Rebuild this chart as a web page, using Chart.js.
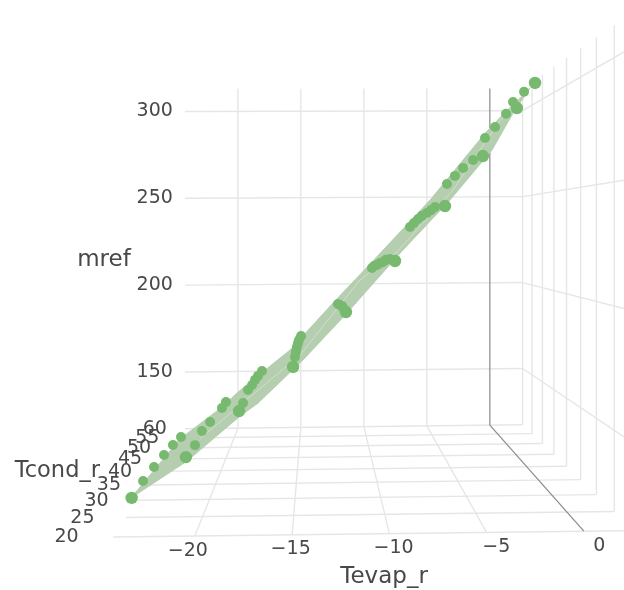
<!DOCTYPE html>
<html>
<head>
<meta charset="utf-8">
<style>
  html, body { margin: 0; background: #fff; }
  canvas { display: block; filter: blur(0.5px); }
</style>
<script src="https://cdn.jsdelivr.net/npm/chart.js@4"></script>
</head>
<body>
<canvas id="myChart" width="624" height="590"></canvas>
<script>
// measured points
const tevap = [-23.25,-23.27,-23.24,-23.19,-23.14,-23.09,
  -20.46,-20.42,-20.44,-20.34,-20.27,-20.31,
  -17.73,-17.78,-17.75,-17.74,-17.77,-17.78,-17.7,
  -14.95,-14.93,-14.95,-14.96,-14.96,-14.96,-14.93,
  -12.23,-12.24,-12.26,-12.22,-12.2,
  -9.71,-9.71,-9.69,-9.63,-9.6,-9.59,-9.59,-9.55,
  -7.14,-7.24,-7.3,-7.3,-7.22,-7.11,-7.04,-6.99,
  -5.19,-5.15,-5.19,-5.18,-5.22,
  -3.44,-3.34,-3.32,-3.32,
  -2.51,-2.35,-2.27];
const tcond = [20,25,30,35,40,45,
  20,25,30,35,45,50,
  20,25,30,35,40,45,50,
  20,25,30,35,40,45,55,
  20,25,30,40,50,
  20,25,30,35,40,45,50,55,
  20,25,27,30,35,40,45,50,
  20,25,30,35,40,
  20,25,30,35,
  20,25,30];
const mref = [131.8,131.7,131.3,130.7,129.7,128.2,
  146.8,145.8,146.3,145.3,142.5,141.1,
  163.8,162.4,163.5,161.7,160.2,158.4,157.3,
  180.1,180.6,179.5,178.6,177.6,176.2,172.8,
  200.5,199.6,198.9,195.5,192.2,
  219.5,219.5,218.4,216.7,215.4,213.5,212.1,210.1,
  240,240.2,239.2,238.3,237.4,236.3,234.5,232.6,
  258.7,259,257.4,255.4,252.9,
  276.7,277.5,274.8,272.5,
  286.1,286.3,285.5];

// surface edges and its seam
const nearTevap = [-23.28,-20.4,-17.73,-16.75,-14.44,-12.18,-9.35,-6.88,-4.72,-3.64,-2.77];
const nearMref = [131.8,145.3,161.6,166.7,182.7,200.1,223.2,242.3,261,274.8,284.2];
const farTevap = [-23.16,-20.4,-19.03,-15.58,-12.62,-9.93,-5.93,-2.14,-0.77];
const farMref = [127.3,142.2,151.2,171.2,194.6,215.1,246,279.5,290];
const seamTevap = [-20.55,-14.71,-11.21,-9.05,-7.53,-5.78,-3.03,-1.57];
const seamMref = [143.1,178.2,209.9,221.7,234,248,277.6,289.5];

// axes
const tevapTicks = [-20,-15,-10,-5,0];
const tcondTicks = [20,25,30,35,40,45,50,55,60];
const mrefTicks = [150,200,250,300];
const tevapRange = [-24.2,2.6];
const tcondRange = [20,60];
const mrefRange = [117.3,313];

// camera
function project(x, y, z) {
  const w = 1 + 0.0136 * (y - 20);
  const u = 317 + 19.45 * (x + 13.72) / w;
  const f = 1 - 0.0004 * (x + 11);
  const v = 230 - (z - 231.3) * 2.668 * f / w - 0.006 * (u - 317);
  return { x: u, y: v };
}

function lineData(from, to) {
  return { data: [project(...from), project(...to)], showLine: true, pointRadius: 0,
    borderColor: '#e6e6e6', borderWidth: 1.4, order: 5 };
}

const datasets = [];

// markers
datasets.push({
  data: tevap.map((t, i) => project(t, tcond[i], mref[i])),
  backgroundColor: '#78b970',
  borderWidth: 0,
  pointRadius: ctx => tcond[ctx.dataIndex] === 20 ? 6.2 : 5,
  order: 0
});

// seam on the surface
datasets.push({
  data: seamTevap.map((t, i) => project(t, 30, seamMref[i])),
  showLine: true, pointRadius: 0, borderColor: '#cfe0ca', borderWidth: 1, order: 1
});

// surface band, near edge filled to far edge
const nearEdge = nearTevap.map((t, i) => project(t, 20, nearMref[i]));
const farEdge = farTevap.map((t, i) => project(t, 45, farMref[i]));
farEdge.unshift(nearEdge[0]);
farEdge.push(nearEdge[nearEdge.length - 1]);
datasets.push({
  data: nearEdge, showLine: true, pointRadius: 0, borderColor: '#b4ceaf', borderWidth: 1,
  fill: '+1', backgroundColor: '#b4ceaf', order: 2
});
datasets.push({
  data: farEdge, showLine: true, pointRadius: 0, borderColor: '#b4ceaf', borderWidth: 1, order: 3
});

// grid, floor
tevapTicks.forEach(t => {
  const d = lineData([t, tcondRange[0], mrefRange[0]], [t, tcondRange[1], mrefRange[0]]);
  if (t === 0) { d.borderColor = '#8a8a8a'; d.borderWidth = 1.2; d.order = 4; }
  datasets.push(d);
});
tcondTicks.forEach(c => {
  datasets.push(lineData([tevapRange[0], c, mrefRange[0]], [tevapRange[1], c, mrefRange[0]]));
});
// grid, back wall
tevapTicks.forEach(t => {
  const d = lineData([t, tcondRange[1], mrefRange[0]], [t, tcondRange[1], mrefRange[1]]);
  if (t === 0) { d.borderColor = '#8a8a8a'; d.borderWidth = 1.2; d.order = 4; }
  datasets.push(d);
});
mrefTicks.forEach(m => {
  datasets.push(lineData([tevapRange[0], tcondRange[1], m], [tevapRange[1], tcondRange[1], m]));
});
// grid, right wall
tcondTicks.forEach(c => {
  datasets.push(lineData([tevapRange[1], c, mrefRange[0]], [tevapRange[1], c, mrefRange[1]]));
});
mrefTicks.forEach(m => {
  datasets.push(lineData([tevapRange[1], tcondRange[0], m], [tevapRange[1], tcondRange[1], m]));
});

const minus = n => String(n).replace('-', '\u2212');

// tick labels and axis titles sit in the same 3d space
const axisText = {
  id: 'axisText',
  afterDraw(chart) {
    const c = chart.ctx;
    const put = (text, pos, size) => {
      c.font = size + 'px "DejaVu Sans"';
      c.fillStyle = '#484848';
      c.textAlign = 'center';
      c.textBaseline = 'middle';
      c.fillText(text, chart.scales.x.getPixelForValue(pos.x), chart.scales.y.getPixelForValue(pos.y));
    };
    c.save();
    tevapTicks.forEach(t => put(minus(t), project(t, 16, mrefRange[0] + 1), 19));
    tcondTicks.forEach(v => put(String(v), project(-26.6, v, mrefRange[0]), 19));
    mrefTicks.forEach(m => put(String(m), project(-26.6, tcondRange[1], m), 19));
    put('Tevap_r', project(-10.6, 13, 113.3), 23);
    put('Tcond_r', project(-30.7, 40, 117.8), 22.5);
    put('mref', project(-30.63, 60, 215), 23);
    c.restore();
  }
};

const ctx = document.getElementById('myChart').getContext('2d');
new Chart(ctx, {
  type: 'scatter',
  data: { datasets: datasets },
  plugins: [axisText],
  options: {
    responsive: false,
    animation: false,
    layout: { padding: 0, autoPadding: false },
    plugins: {
      legend: { display: false },
      tooltip: { enabled: false }
    },
    scales: {
      x: { display: false, min: 0, max: 624 },
      y: { display: false, min: 0, max: 590, reverse: true }
    }
  }
});
</script>
</body>
</html>
